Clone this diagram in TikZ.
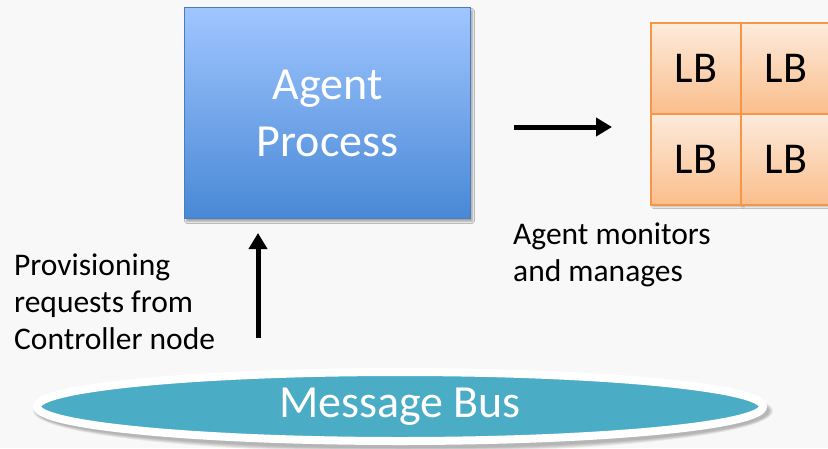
\documentclass[tikz,border=0pt]{standalone}
\usepackage{fontspec}
\setmainfont{Carlito}
\usetikzlibrary{shapes.geometric,shadows.blur,arrows.meta}
\definecolor{bgc}{RGB}{248,248,248}
\definecolor{boxtop}{RGB}{160,198,255}
\definecolor{boxbot}{RGB}{72,136,214}
\definecolor{boxline}{RGB}{74,126,187}
\definecolor{lbtop}{RGB}{253,235,220}
\definecolor{lbbot}{RGB}{250,190,140}
\definecolor{lbline}{RGB}{247,150,70}
\definecolor{busfill}{RGB}{75,172,198}
\tikzset{
  agentbox/.style={draw=boxline, line width=1.5pt, top color=boxtop, bottom color=boxbot,
    minimum width=286pt, minimum height=211pt, inner sep=0pt, align=center, text=white,
    font=\fontsize{46}{57}\selectfont,
    blur shadow={shadow xshift=2pt, shadow yshift=-3pt, shadow blur steps=6, shadow opacity=35}},
  lbcell/.style={draw=lbline, line width=2pt, top color=lbtop, bottom color=lbbot,
    minimum width=90pt, minimum height=91pt, inner sep=0pt, text=black,
    font=\fontsize{44}{50}\selectfont,
    blur shadow={shadow xshift=2pt, shadow yshift=-2pt, shadow blur steps=5, shadow opacity=30}},
  bus/.style={ellipse, draw=white, line width=8pt, fill=busfill, minimum width=726pt, minimum height=69pt,
    inner sep=0pt, text=white, font=\fontsize{46}{50}\selectfont},
  busshadow/.style={fill=black, opacity=0.06},
  lbl/.style={font=\fontsize{31.5}{37}\selectfont, align=left, inner sep=0pt, anchor=north west},
  bigarrow/.style={line width=5pt, -{Triangle[length=16pt,width=18pt]}},
}
\begin{document}
\begin{tikzpicture}[x=1pt,y=-1pt]
\fill[bgc] (0,0) rectangle (828,448);
\useasboundingbox (0,0) rectangle (828,448);
\node[agentbox] (agent) at (327.5,113) {Agent\\Process};
\node[lbcell] (lb1) at (696,68.5) {LB};
\node[lbcell] (lb3) at (696,159) {LB};
\node[lbcell] (lb2) at (786,68.5) {LB};
\node[lbcell] (lb4) at (786,159) {LB};
\foreach \r in {0,1,2,3,4} {
  \fill[busshadow] (403,411) ellipse ({366+\r} and {37.5+\r});
}
\node[bus] (bus) at (400,406.5) {Message Bus};
\coordinate (ra) at (514,127);
\coordinate (rb) at (612,127);
\draw[bigarrow] (ra) -- (rb);
\coordinate (ua) at (258,338);
\coordinate (ub) at (258,233);
\draw[bigarrow] (ua) -- (ub);
\node[lbl] (mon) at (513,223) {Agent monitors\\and manages};
\node[lbl] (prov) at (14,254) {Provisioning\\requests from\\Controller node};
\end{tikzpicture}
\end{document}
